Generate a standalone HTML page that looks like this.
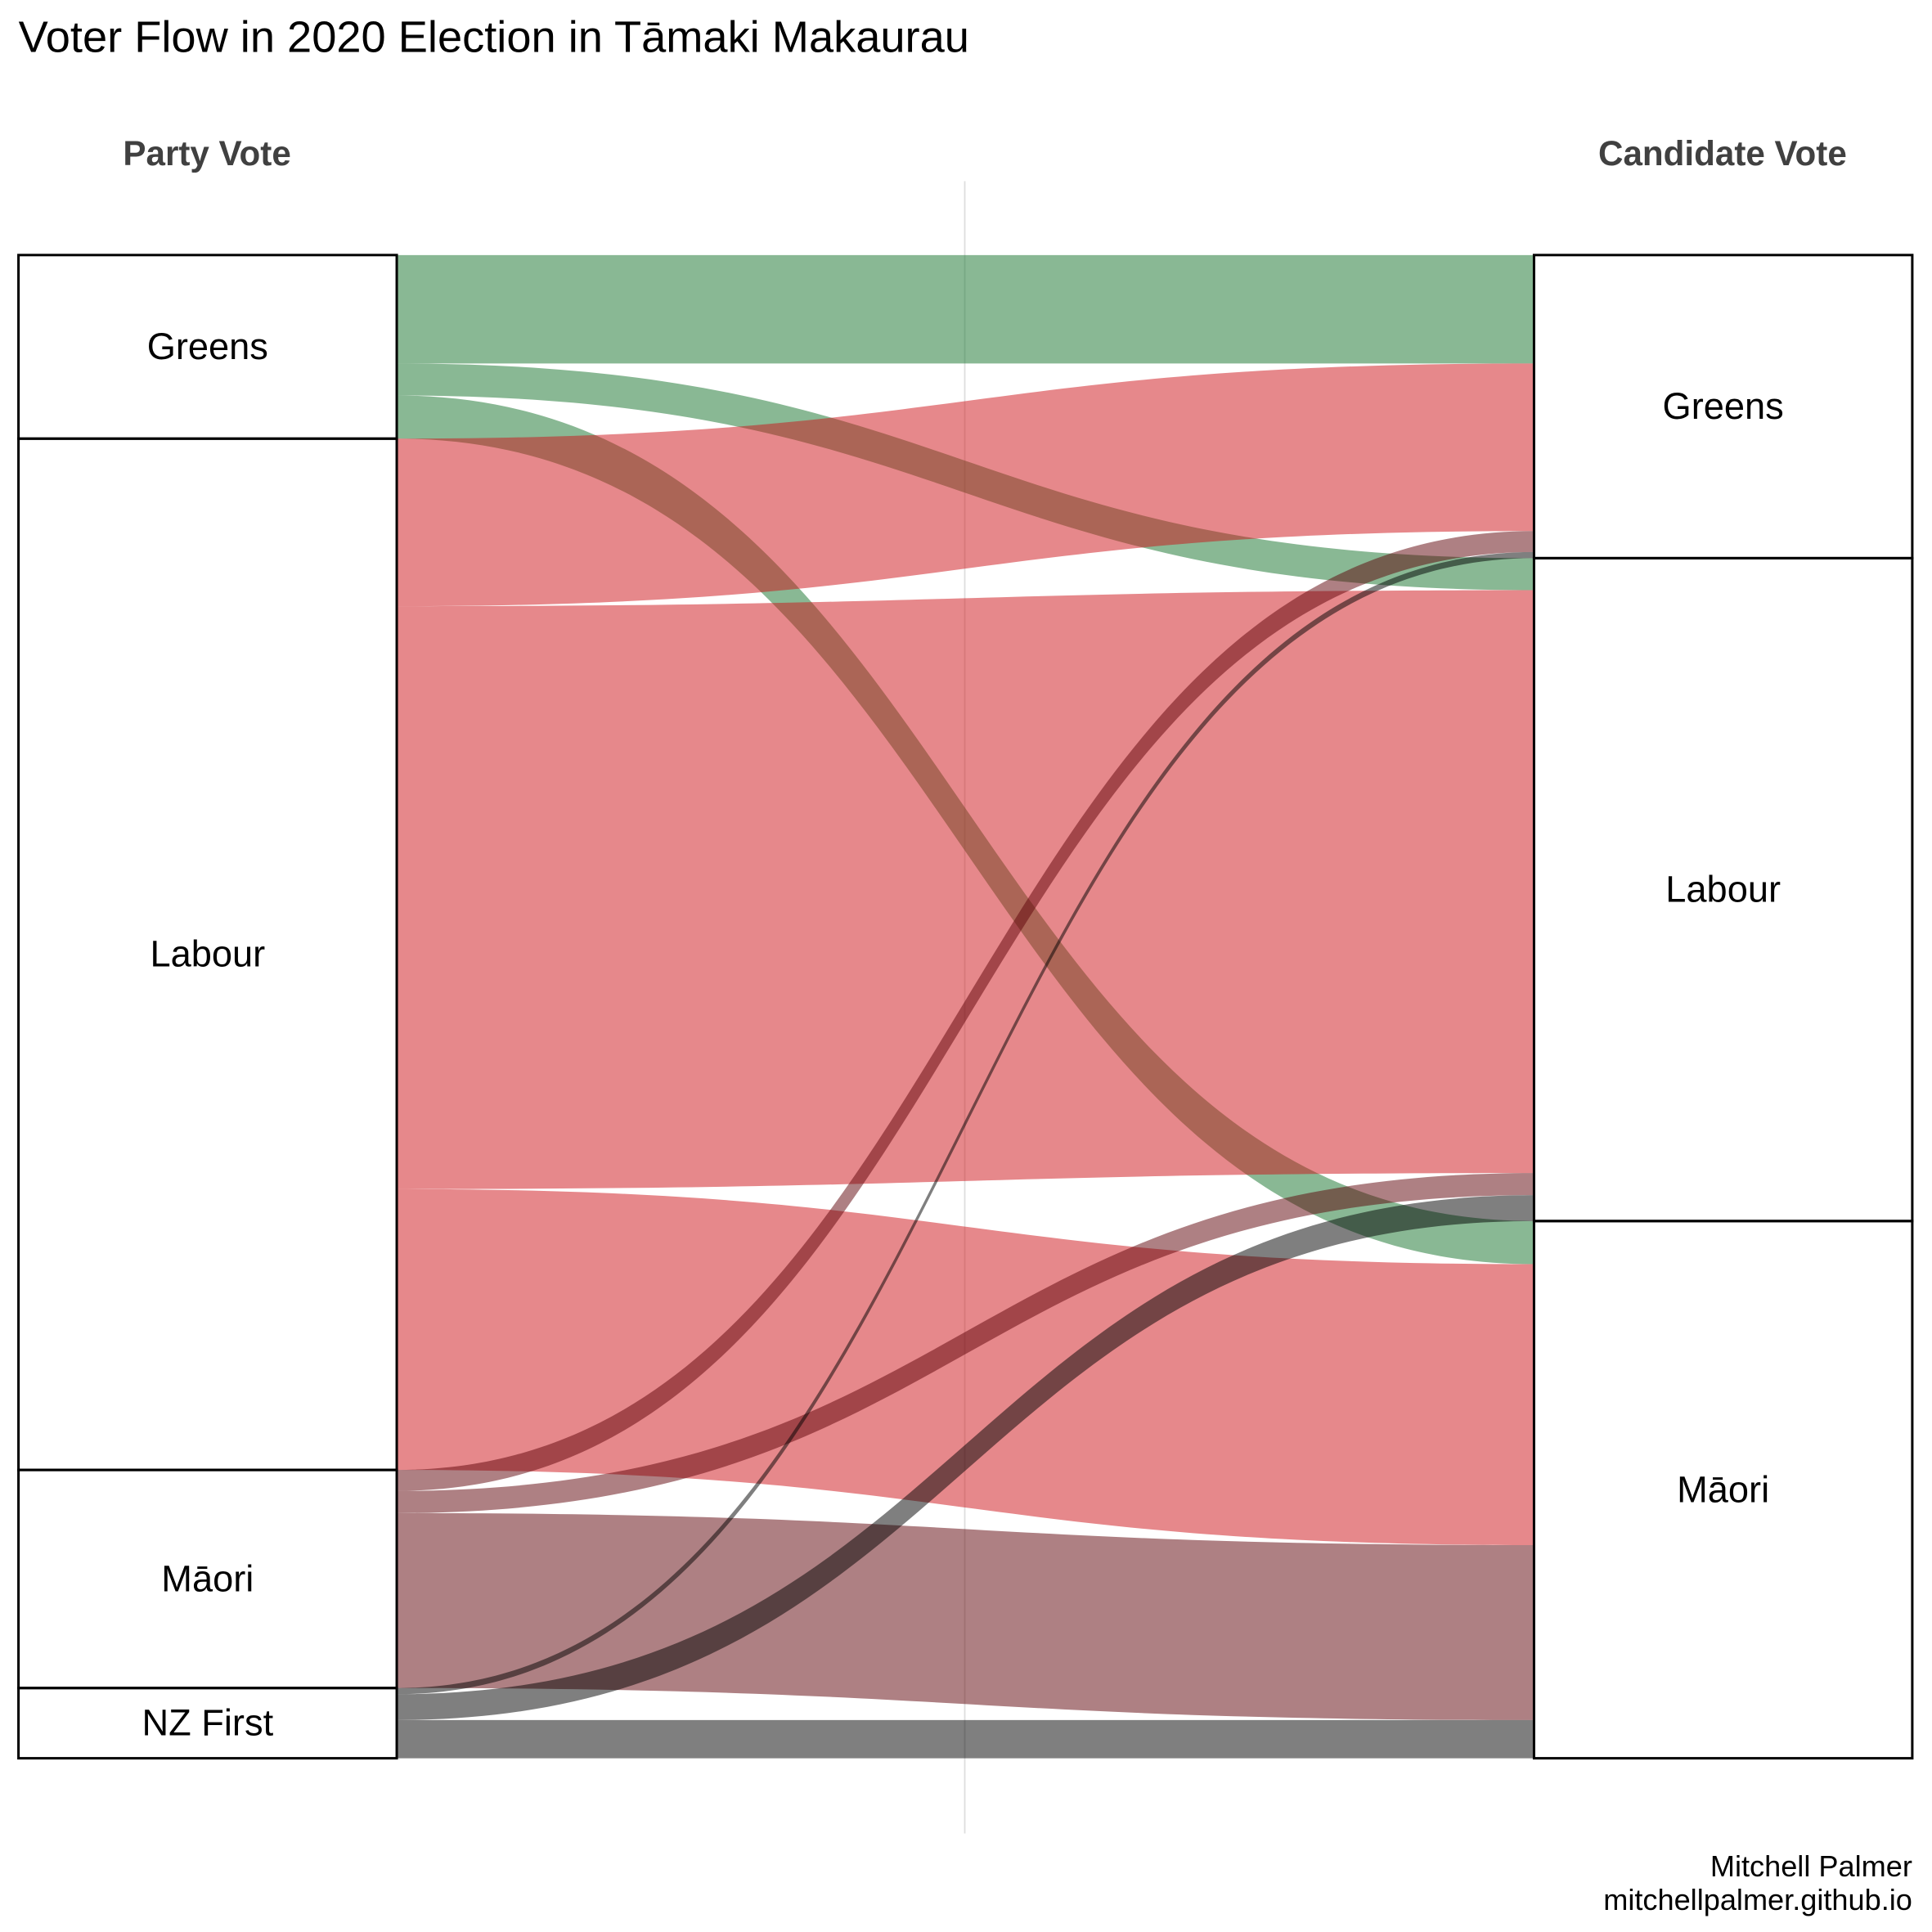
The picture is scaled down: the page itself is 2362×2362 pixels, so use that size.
<!DOCTYPE html>
<html><head><meta charset="utf-8"><style>
html,body{margin:0;padding:0;background:#fff;}
svg{display:block;font-family:"Liberation Sans",Arial,sans-serif;}
</style></head><body>
<svg id="chart" width="2362" height="2362" viewBox="0 0 1568 1568" xmlns="http://www.w3.org/2000/svg">
<rect width="1568" height="1568" fill="#fff"/>
<text x="15" y="42" font-size="36" fill="#000">Voter Flow in 2020 Election in Tāmaki Makaurau</text>
<text x="168" y="134" font-size="28" font-weight="bold" fill="#404040" text-anchor="middle">Party Vote</text>
<text x="1398" y="134" font-size="28" font-weight="bold" fill="#404040" text-anchor="middle">Candidate Vote</text>
<line x1="783" y1="147" x2="783" y2="1488" stroke="#dedede" stroke-width="1.2"/>
<g id="flows"></g>
<g id="boxes"></g>
<text x="1552" y="1523" font-size="24" text-anchor="end">Mitchell Palmer</text>
<text x="1552" y="1550" font-size="24" text-anchor="end">mitchellpalmer.github.io</text>
</svg>
<script>
const parties = ["Greens","Labour","Māori","NZ First"];
const targets = ["Greens","Labour","Māori"];
// flows[source][target]
const fromGreens = [88, 26, 35];
const fromLabour = [136, 473, 228];
const fromMaori = [17, 18, 142];
const fromNZFirst = [5, 21, 31];
const flows = [fromGreens, fromLabour, fromMaori, fromNZFirst];
const colors = ["rgb(19,113,41)","rgb(205,17,23)","rgb(93,1,7)","rgb(0,0,0)"];

const yTop = 207, yBottom = 1427, lx0 = 15, lx1 = 322, rx0 = 1245, rx1 = 1552;
const total = flows.reduce((a,r)=>a+r.reduce((s,v)=>s+v,0),0);
const k = (yBottom-yTop)/total;
const NS = "http://www.w3.org/2000/svg";
const fg = document.getElementById('flows'), bg = document.getElementById('boxes');

const srcTot = flows.map(r=>r.reduce((s,v)=>s+v,0));
const tgtTot = targets.map((t,j)=>flows.reduce((s,r)=>s+r[j],0));
const srcY = []; let yy0 = yTop;
srcTot.forEach(v=>{srcY.push(yy0); yy0 += v*k;});
const tgtY = []; yy0 = yTop;
tgtTot.forEach(v=>{tgtY.push(yy0); yy0 += v*k;});

const rStart = [];
for (let i=0;i<flows.length;i++){ rStart.push([]); }
for (let j=0;j<targets.length;j++){
  let yy = tgtY[j];
  for (let i=0;i<flows.length;i++){ rStart[i][j]=yy; yy += flows[i][j]*k; }
}
const mx = (lx1+rx0)/2;
for (let i=0;i<flows.length;i++){
  let yy = srcY[i];
  for (let j=0;j<targets.length;j++){
    const h = flows[i][j]*k;
    const a = yy, b = rStart[i][j];
    const p = document.createElementNS(NS,'path');
    p.setAttribute('d',`M${lx1},${a} C${mx},${a} ${mx},${b} ${rx0},${b} L${rx0},${b+h} C${mx},${b+h} ${mx},${a+h} ${lx1},${a+h} Z`);
    p.setAttribute('fill',colors[i]);
    p.setAttribute('fill-opacity','0.5');
    
    
    fg.appendChild(p);
    yy += h;
  }
}
function box(x0,x1,y0,h,label,name){
  const r = document.createElementNS(NS,'rect');
  r.setAttribute('x',x0); r.setAttribute('y',y0); r.setAttribute('width',x1-x0); r.setAttribute('height',h);
  r.setAttribute('fill','none'); r.setAttribute('stroke','#000'); r.setAttribute('stroke-width','2');
  
  
  bg.appendChild(r);
  const t = document.createElementNS(NS,'text');
  t.setAttribute('x',(x0+x1)/2); t.setAttribute('y',y0+h/2+10);
  t.setAttribute('text-anchor','middle'); t.setAttribute('font-size','30');
  t.textContent = label;
  
  
  bg.appendChild(t);
}
parties.forEach((p,i)=>box(lx0,lx1,srcY[i],srcTot[i]*k,p,'party-'+p.toLowerCase().replace(/[^a-z]/g,'')));
targets.forEach((p,j)=>box(rx0,rx1,tgtY[j],tgtTot[j]*k,p,'candidate-'+p.toLowerCase().replace(/[^a-z]/g,'')));
</script>
</body></html>
